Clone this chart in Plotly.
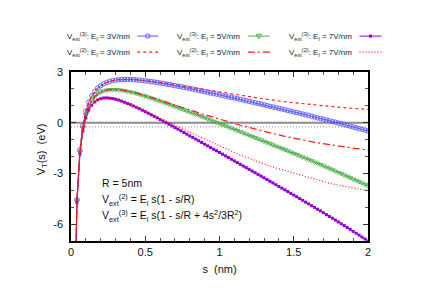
import plotly.graph_objects as go

# ---------------- data ----------------
s = [0.02, 0.04, 0.06, 0.08, 0.10, 0.12, 0.14, 0.16, 0.18, 0.20,
     0.22, 0.24, 0.26, 0.28, 0.30, 0.32, 0.34, 0.36, 0.38, 0.40,
     0.42, 0.44, 0.46, 0.48, 0.50, 0.52, 0.54, 0.56, 0.58, 0.60,
     0.62, 0.64, 0.66, 0.68, 0.70, 0.72, 0.74, 0.76, 0.78, 0.80,
     0.82, 0.84, 0.86, 0.88, 0.90, 0.92, 0.94, 0.96, 0.98, 1.00,
     1.02, 1.04, 1.06, 1.08, 1.10, 1.12, 1.14, 1.16, 1.18, 1.20,
     1.22, 1.24, 1.26, 1.28, 1.30, 1.32, 1.34, 1.36, 1.38, 1.40,
     1.42, 1.44, 1.46, 1.48, 1.50, 1.52, 1.54, 1.56, 1.58, 1.60,
     1.62, 1.64, 1.66, 1.68, 1.70, 1.72, 1.74, 1.76, 1.78, 1.80,
     1.82, 1.84, 1.86, 1.88, 1.90, 1.92, 1.94, 1.96, 1.98, 2.00]

v3_e3 = [-13.49, -4.55, -1.61, -0.17, 0.68, 1.22, 1.59, 1.85, 2.05, 2.19,
         2.30, 2.38, 2.44, 2.49, 2.52, 2.54, 2.55, 2.56, 2.56, 2.56,
         2.55, 2.53, 2.52, 2.50, 2.48, 2.46, 2.43, 2.41, 2.38, 2.35,
         2.32, 2.29, 2.26, 2.23, 2.19, 2.16, 2.13, 2.09, 2.06, 2.02,
         1.99, 1.95, 1.91, 1.88, 1.84, 1.80, 1.76, 1.73, 1.69, 1.65,
         1.61, 1.57, 1.53, 1.49, 1.46, 1.42, 1.38, 1.34, 1.30, 1.26,
         1.22, 1.18, 1.14, 1.10, 1.06, 1.01, 0.97, 0.93, 0.89, 0.85,
         0.81, 0.77, 0.72, 0.68, 0.64, 0.60, 0.56, 0.51, 0.47, 0.43,
         0.38, 0.34, 0.29, 0.25, 0.21, 0.16, 0.12, 0.07, 0.03, -0.02,
         -0.06, -0.11, -0.16, -0.20, -0.25, -0.30, -0.35, -0.39, -0.44, -0.49]

v3_e5 = [-13.53, -4.63, -1.73, -0.32, 0.48, 0.98, 1.32, 1.54, 1.70, 1.81,
         1.88, 1.92, 1.95, 1.96, 1.95, 1.94, 1.92, 1.89, 1.85, 1.81,
         1.77, 1.72, 1.67, 1.62, 1.57, 1.51, 1.45, 1.39, 1.33, 1.27,
         1.21, 1.15, 1.08, 1.02, 0.95, 0.89, 0.82, 0.76, 0.69, 0.62,
         0.56, 0.49, 0.42, 0.35, 0.29, 0.22, 0.15, 0.08, 0.01, -0.06,
         -0.13, -0.19, -0.26, -0.33, -0.40, -0.47, -0.54, -0.61, -0.68, -0.75,
         -0.82, -0.89, -0.96, -1.03, -1.10, -1.17, -1.24, -1.32, -1.39, -1.46,
         -1.53, -1.60, -1.67, -1.75, -1.82, -1.89, -1.97, -2.04, -2.11, -2.19,
         -2.26, -2.34, -2.41, -2.49, -2.56, -2.64, -2.71, -2.79, -2.87, -2.95,
         -3.02, -3.10, -3.18, -3.26, -3.34, -3.42, -3.50, -3.58, -3.66, -3.74]

v3_e7 = [-13.57, -4.71, -1.85, -0.48, 0.28, 0.75, 1.04, 1.23, 1.35, 1.42,
         1.46, 1.47, 1.45, 1.43, 1.39, 1.34, 1.28, 1.21, 1.14, 1.07,
         0.99, 0.91, 0.83, 0.74, 0.65, 0.56, 0.47, 0.38, 0.29, 0.19,
         0.10, 0.00, -0.09, -0.19, -0.29, -0.38, -0.48, -0.58, -0.68, -0.78,
         -0.87, -0.97, -1.07, -1.17, -1.27, -1.37, -1.47, -1.57, -1.66, -1.76,
         -1.86, -1.96, -2.06, -2.16, -2.26, -2.36, -2.46, -2.56, -2.66, -2.76,
         -2.86, -2.96, -3.06, -3.16, -3.26, -3.36, -3.46, -3.56, -3.67, -3.77,
         -3.87, -3.97, -4.07, -4.18, -4.28, -4.38, -4.49, -4.59, -4.70, -4.80,
         -4.91, -5.01, -5.12, -5.22, -5.33, -5.44, -5.55, -5.65, -5.76, -5.87,
         -5.98, -6.09, -6.20, -6.31, -6.43, -6.54, -6.65, -6.77, -6.88, -7.00]

v2_e3 = [-13.49, -4.55, -1.61, -0.17, 0.68, 1.22, 1.59, 1.86, 2.05, 2.19,
         2.30, 2.38, 2.45, 2.49, 2.52, 2.55, 2.56, 2.57, 2.57, 2.57,
         2.56, 2.55, 2.53, 2.52, 2.50, 2.48, 2.46, 2.44, 2.41, 2.39,
         2.36, 2.33, 2.31, 2.28, 2.25, 2.22, 2.19, 2.16, 2.13, 2.10,
         2.07, 2.04, 2.02, 1.99, 1.96, 1.93, 1.90, 1.87, 1.84, 1.81,
         1.78, 1.75, 1.72, 1.70, 1.67, 1.64, 1.61, 1.59, 1.56, 1.53,
         1.51, 1.48, 1.46, 1.43, 1.41, 1.38, 1.36, 1.34, 1.31, 1.29,
         1.27, 1.24, 1.22, 1.20, 1.18, 1.16, 1.14, 1.12, 1.10, 1.08,
         1.06, 1.04, 1.03, 1.01, 0.99, 0.98, 0.96, 0.94, 0.93, 0.91,
         0.90, 0.89, 0.87, 0.86, 0.85, 0.83, 0.82, 0.81, 0.80, 0.79]

v2_e5 = [-13.53, -4.63, -1.73, -0.32, 0.48, 0.98, 1.32, 1.55, 1.70, 1.81,
         1.88, 1.93, 1.95, 1.96, 1.96, 1.95, 1.93, 1.90, 1.87, 1.83,
         1.79, 1.75, 1.70, 1.65, 1.60, 1.55, 1.50, 1.44, 1.39, 1.33,
         1.27, 1.22, 1.16, 1.10, 1.05, 0.99, 0.93, 0.87, 0.82, 0.76,
         0.70, 0.65, 0.59, 0.53, 0.48, 0.42, 0.37, 0.32, 0.26, 0.21,
         0.16, 0.11, 0.05, 0.00, -0.05, -0.10, -0.15, -0.19, -0.24, -0.29,
         -0.34, -0.38, -0.43, -0.47, -0.52, -0.56, -0.60, -0.64, -0.69, -0.73,
         -0.77, -0.81, -0.84, -0.88, -0.92, -0.96, -0.99, -1.03, -1.06, -1.10,
         -1.13, -1.16, -1.19, -1.22, -1.25, -1.28, -1.31, -1.34, -1.36, -1.39,
         -1.42, -1.44, -1.46, -1.49, -1.51, -1.53, -1.55, -1.57, -1.59, -1.61]

v2_e7 = [-13.57, -4.71, -1.85, -0.48, 0.28, 0.75, 1.05, 1.24, 1.36, 1.43,
         1.46, 1.47, 1.46, 1.43, 1.40, 1.35, 1.29, 1.23, 1.16, 1.09,
         1.02, 0.94, 0.86, 0.78, 0.70, 0.62, 0.53, 0.45, 0.36, 0.27,
         0.19, 0.10, 0.01, -0.07, -0.16, -0.24, -0.33, -0.41, -0.50, -0.58,
         -0.67, -0.75, -0.83, -0.92, -1.00, -1.08, -1.16, -1.23, -1.31, -1.39,
         -1.47, -1.54, -1.62, -1.69, -1.76, -1.84, -1.91, -1.98, -2.05, -2.11,
         -2.18, -2.25, -2.31, -2.38, -2.44, -2.50, -2.57, -2.63, -2.68, -2.74,
         -2.80, -2.86, -2.91, -2.97, -3.02, -3.07, -3.12, -3.17, -3.22, -3.27,
         -3.32, -3.36, -3.41, -3.45, -3.50, -3.54, -3.58, -3.62, -3.66, -3.69,
         -3.73, -3.77, -3.80, -3.83, -3.87, -3.90, -3.93, -3.96, -3.98, -4.01]

ref_s = [0.0, 2.0]
zero_level = [0.0, 0.0]
dotted_level = [-0.25, -0.25]

x_ticks = [0, 0.5, 1, 1.5, 2]
x_tick_labels = ["0", "0.5", "1", "1.5", "2"]
y_ticks = [3, 0, -3, -6]
y_tick_labels = ["3", "0", "-3", "-6"]

legend_labels = [
    "V<sub>ext</sub><sup>(3)</sup>: E<sub>l</sub> = 3V/nm",
    "V<sub>ext</sub><sup>(3)</sup>: E<sub>l</sub> = 5V/nm",
    "V<sub>ext</sub><sup>(3)</sup>: E<sub>l</sub> = 7V/nm",
    "V<sub>ext</sub><sup>(2)</sup>: E<sub>l</sub> = 3V/nm",
    "V<sub>ext</sub><sup>(2)</sup>: E<sub>l</sub> = 5V/nm",
    "V<sub>ext</sub><sup>(2)</sup>: E<sub>l</sub> = 7V/nm",
]

BLUE = "#5a5aff"
GREEN = "#4caf4c"
PURPLE = "#9400d3"
RED = "#ff1a1a"
FONT = "Liberation Sans, Arial, sans-serif"

# page body has an 8px margin; figure is sized so the plot lands where the reference has it
PAGE_OFF = 8
W, H = 427 - PAGE_OFF, 302 - PAGE_OFF
PLOT_L, PLOT_R, PLOT_T, PLOT_B = 70.5, 368.5, 72.0, 241.5   # window pixels of the plot frame

fig = go.Figure()

# reference lines
fig.add_trace(go.Scatter(x=ref_s, y=zero_level, mode="lines",
                         line=dict(color="#8c8c8c", width=2), showlegend=False, hoverinfo="skip"))
fig.add_trace(go.Scatter(x=ref_s, y=dotted_level, mode="lines",
                         line=dict(color="#8c8c8c", width=1, dash="1px,2px"), showlegend=False, hoverinfo="skip"))

# V_ext^(3) series (lines + points)
fig.add_trace(go.Scatter(x=s, y=v3_e3, mode="lines+markers",
                         line=dict(color=BLUE, width=1),
                         marker=dict(symbol="circle-open", size=4.5, color=BLUE, line=dict(width=0.9)),
                         showlegend=False))
fig.add_trace(go.Scatter(x=s, y=v3_e5, mode="lines+markers",
                         line=dict(color=GREEN, width=1),
                         marker=dict(symbol="triangle-down-open", size=4.5, color=GREEN, line=dict(width=0.9)),
                         showlegend=False))
fig.add_trace(go.Scatter(x=s, y=v3_e7, mode="lines+markers",
                         line=dict(color=PURPLE, width=1),
                         marker=dict(symbol="square", size=3, color=PURPLE),
                         showlegend=False))

# V_ext^(2) series (lines)
fig.add_trace(go.Scatter(x=s, y=v2_e3, mode="lines",
                         line=dict(color=RED, width=1.2, dash="3px,3px"), showlegend=False))
fig.add_trace(go.Scatter(x=s, y=v2_e5, mode="lines",
                         line=dict(color=RED, width=1.2, dash="7px,3px,2px,3px"), showlegend=False))
fig.add_trace(go.Scatter(x=s, y=v2_e7, mode="lines",
                         line=dict(color=RED, width=1.2, dash="1px,2px"), showlegend=False))

# ---------------- custom gnuplot-style key ----------------
def px_x(p):
    return (p - PLOT_L) / (PLOT_R - PLOT_L)

def px_y(p):
    return (PLOT_B - p) / (PLOT_B - PLOT_T)

text_right = [132, 242, 354]
sample_x0 = [137, 248, 360]
sample_x1 = [158, 270, 382]
row_y = [36, 52]
styles = [
    dict(color=BLUE, width=1, dash="solid"),
    dict(color=GREEN, width=1, dash="solid"),
    dict(color=PURPLE, width=1, dash="solid"),
    dict(color=RED, width=1.2, dash="3px,3px"),
    dict(color=RED, width=1.2, dash="7px,3px,2px,3px"),
    dict(color=RED, width=1.2, dash="1px,2px"),
]

annotations = []
shapes = []
for i, lab in enumerate(legend_labels):
    col = i % 3
    row = i // 3
    yy = px_y(row_y[row])
    annotations.append(dict(text=lab, x=px_x(text_right[col]), y=yy, xref="paper", yref="paper",
                            xanchor="right", yanchor="middle", showarrow=False,
                            font=dict(size=8, color="#222", family=FONT)))
    shapes.append(dict(type="line", xref="paper", yref="paper",
                       x0=px_x(sample_x0[col]), x1=px_x(sample_x1[col]), y0=yy, y1=yy,
                       line=styles[i]))

# marker samples in key
mx = [(sample_x0[c] + sample_x1[c]) / 2 for c in range(3)]
yk = row_y[0]
shapes.append(dict(type="circle", xref="paper", yref="paper",
                   x0=px_x(mx[0] - 2.2), x1=px_x(mx[0] + 2.2), y0=px_y(yk + 2.2), y1=px_y(yk - 2.2),
                   line=dict(color=BLUE, width=1)))
shapes.append(dict(type="path", xref="paper", yref="paper",
                   path="M %f %f L %f %f L %f %f Z" % (px_x(mx[1] - 2.6), px_y(yk - 1.8), px_x(mx[1] + 2.6), px_y(yk - 1.8),
                                                      px_x(mx[1]), px_y(yk + 2.6)),
                   line=dict(color=GREEN, width=1)))
shapes.append(dict(type="rect", xref="paper", yref="paper",
                   x0=px_x(mx[2] - 1.5), x1=px_x(mx[2] + 1.5), y0=px_y(yk + 1.5), y1=px_y(yk - 1.5),
                   line=dict(color=PURPLE, width=0), fillcolor=PURPLE))

# formula labels
formula_lines = [
    "R = 5nm",
    "V<sub>ext</sub><sup>(2)</sup> = E<sub>l</sub> s(1 - s/R)",
    "V<sub>ext</sub><sup>(3)</sup> = E<sub>l</sub> s(1 - s/R + 4s<sup>2</sup>/3R<sup>2</sup>)",
]
formula_y = [183, 200, 216]
for t, yy in zip(formula_lines, formula_y):
    annotations.append(dict(text=t, x=px_x(100), y=px_y(yy), xref="paper", yref="paper",
                            xanchor="left", yanchor="middle", showarrow=False,
                            font=dict(size=10.5, color="#111", family=FONT)))

# y-axis title placed like the reference (rotated, just left of the tick labels)
annotations.append(dict(text="V<sub>T</sub>(s)  (eV)", x=px_x(41), y=px_y(150), xref="paper", yref="paper",
                        xanchor="center", yanchor="middle", showarrow=False, textangle=-90,
                        font=dict(size=11, color="#111", family=FONT)))

fig.update_layout(
    width=W, height=H,
    margin=dict(l=PLOT_L - PAGE_OFF, r=W - (PLOT_R - PAGE_OFF), t=PLOT_T - PAGE_OFF,
                b=H - (PLOT_B - PAGE_OFF), pad=0),
    paper_bgcolor="white", plot_bgcolor="white",
    font=dict(family=FONT, size=11, color="#111"),
    showlegend=False,
    annotations=annotations,
    shapes=shapes,
)
fig.update_xaxes(range=[0, 2], tickvals=x_ticks, ticktext=x_tick_labels,
                 ticks="inside", ticklen=5, tickcolor="#333", tickwidth=1,
                 minor=dict(ticks="inside", ticklen=3, dtick=0.1, tickcolor="#555"),
                 showline=True, linecolor="black", linewidth=1.5, mirror="allticks",
                 showgrid=False, zeroline=False,
                 title=dict(text="s  (nm)", standoff=8, font=dict(size=11)),
                 tickfont=dict(size=11))
fig.update_yaxes(range=[-7, 3], tickvals=y_ticks, ticktext=y_tick_labels,
                 ticks="inside", ticklen=5, tickcolor="#333", tickwidth=1,
                 minor=dict(ticks="inside", ticklen=3, tickvals=[2, 1, -1, -2, -4, -5], tickcolor="#555"),
                 showline=True, linecolor="black", linewidth=1.5, mirror="allticks",
                 showgrid=False, zeroline=False, ticklabelstandoff=4,
                 tickfont=dict(size=11))

fig.write_html("out.html")
